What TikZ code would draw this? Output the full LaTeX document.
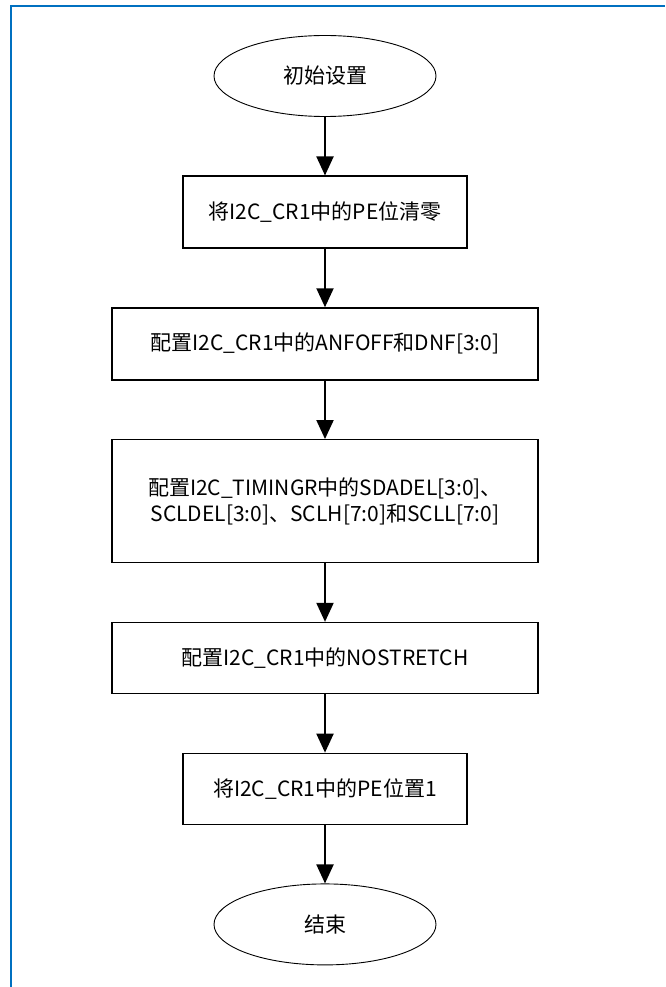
\documentclass[tikz,border=0pt]{standalone}
\usepackage{fontspec}
\setmainfont{Noto Sans CJK SC}
\usepackage{xcolor}
\usetikzlibrary{positioning, arrows.meta, shapes.geometric}
\definecolor{frameblue}{RGB}{0,112,192}

\begin{document}
\begin{tikzpicture}[
    x=1pt, y=-1pt,
    node distance=58.5pt,
    term/.style={draw, ellipse, line width=0.9pt, minimum width=222pt, minimum height=81pt, inner sep=0pt, font=\fontsize{21}{26}\selectfont},
    proc/.style={draw, rectangle, line width=1.3pt, minimum width=284pt, minimum height=72pt, inner sep=0pt, align=center, font=\fontsize{21}{26}\selectfont},
    wide/.style={proc, minimum width=426pt},
    arr/.style={-{Triangle[length=19pt, width=17pt]}, line width=2pt}
]
\useasboundingbox (0,0) rectangle (665,987);
\draw[frameblue, line width=1.5pt] (11,987) -- (11,6) -- (665,6);

\node[term] (init) at (325,76) {初始设置};
\node[proc, below=of init] (peclr) {将I2C\_CR1中的PE位清零};
\node[wide, below=of peclr] (filt) {配置I2C\_CR1中的ANFOFF和DNF[3:0]};
\node[wide, minimum height=123pt, below=of filt] (timing) {配置I2C\_TIMINGR中的SDADEL[3:0]、\\SCLDEL[3:0]、SCLH[7:0]和SCLL[7:0]};
\node[wide, minimum height=71pt, below=of timing] (nostr) {配置I2C\_CR1中的NOSTRETCH};
\node[proc, minimum height=71pt, below=of nostr] (peset) {将I2C\_CR1中的PE位置1};
\node[term, below=of peset] (fin) {结束};

\draw[arr] (init) -- (peclr);
\draw[arr] (peclr) -- (filt);
\draw[arr] (filt) -- (timing);
\draw[arr] (timing) -- (nostr);
\draw[arr] (nostr) -- (peset);
\draw[arr] (peset) -- (fin);

\end{tikzpicture}
\end{document}
